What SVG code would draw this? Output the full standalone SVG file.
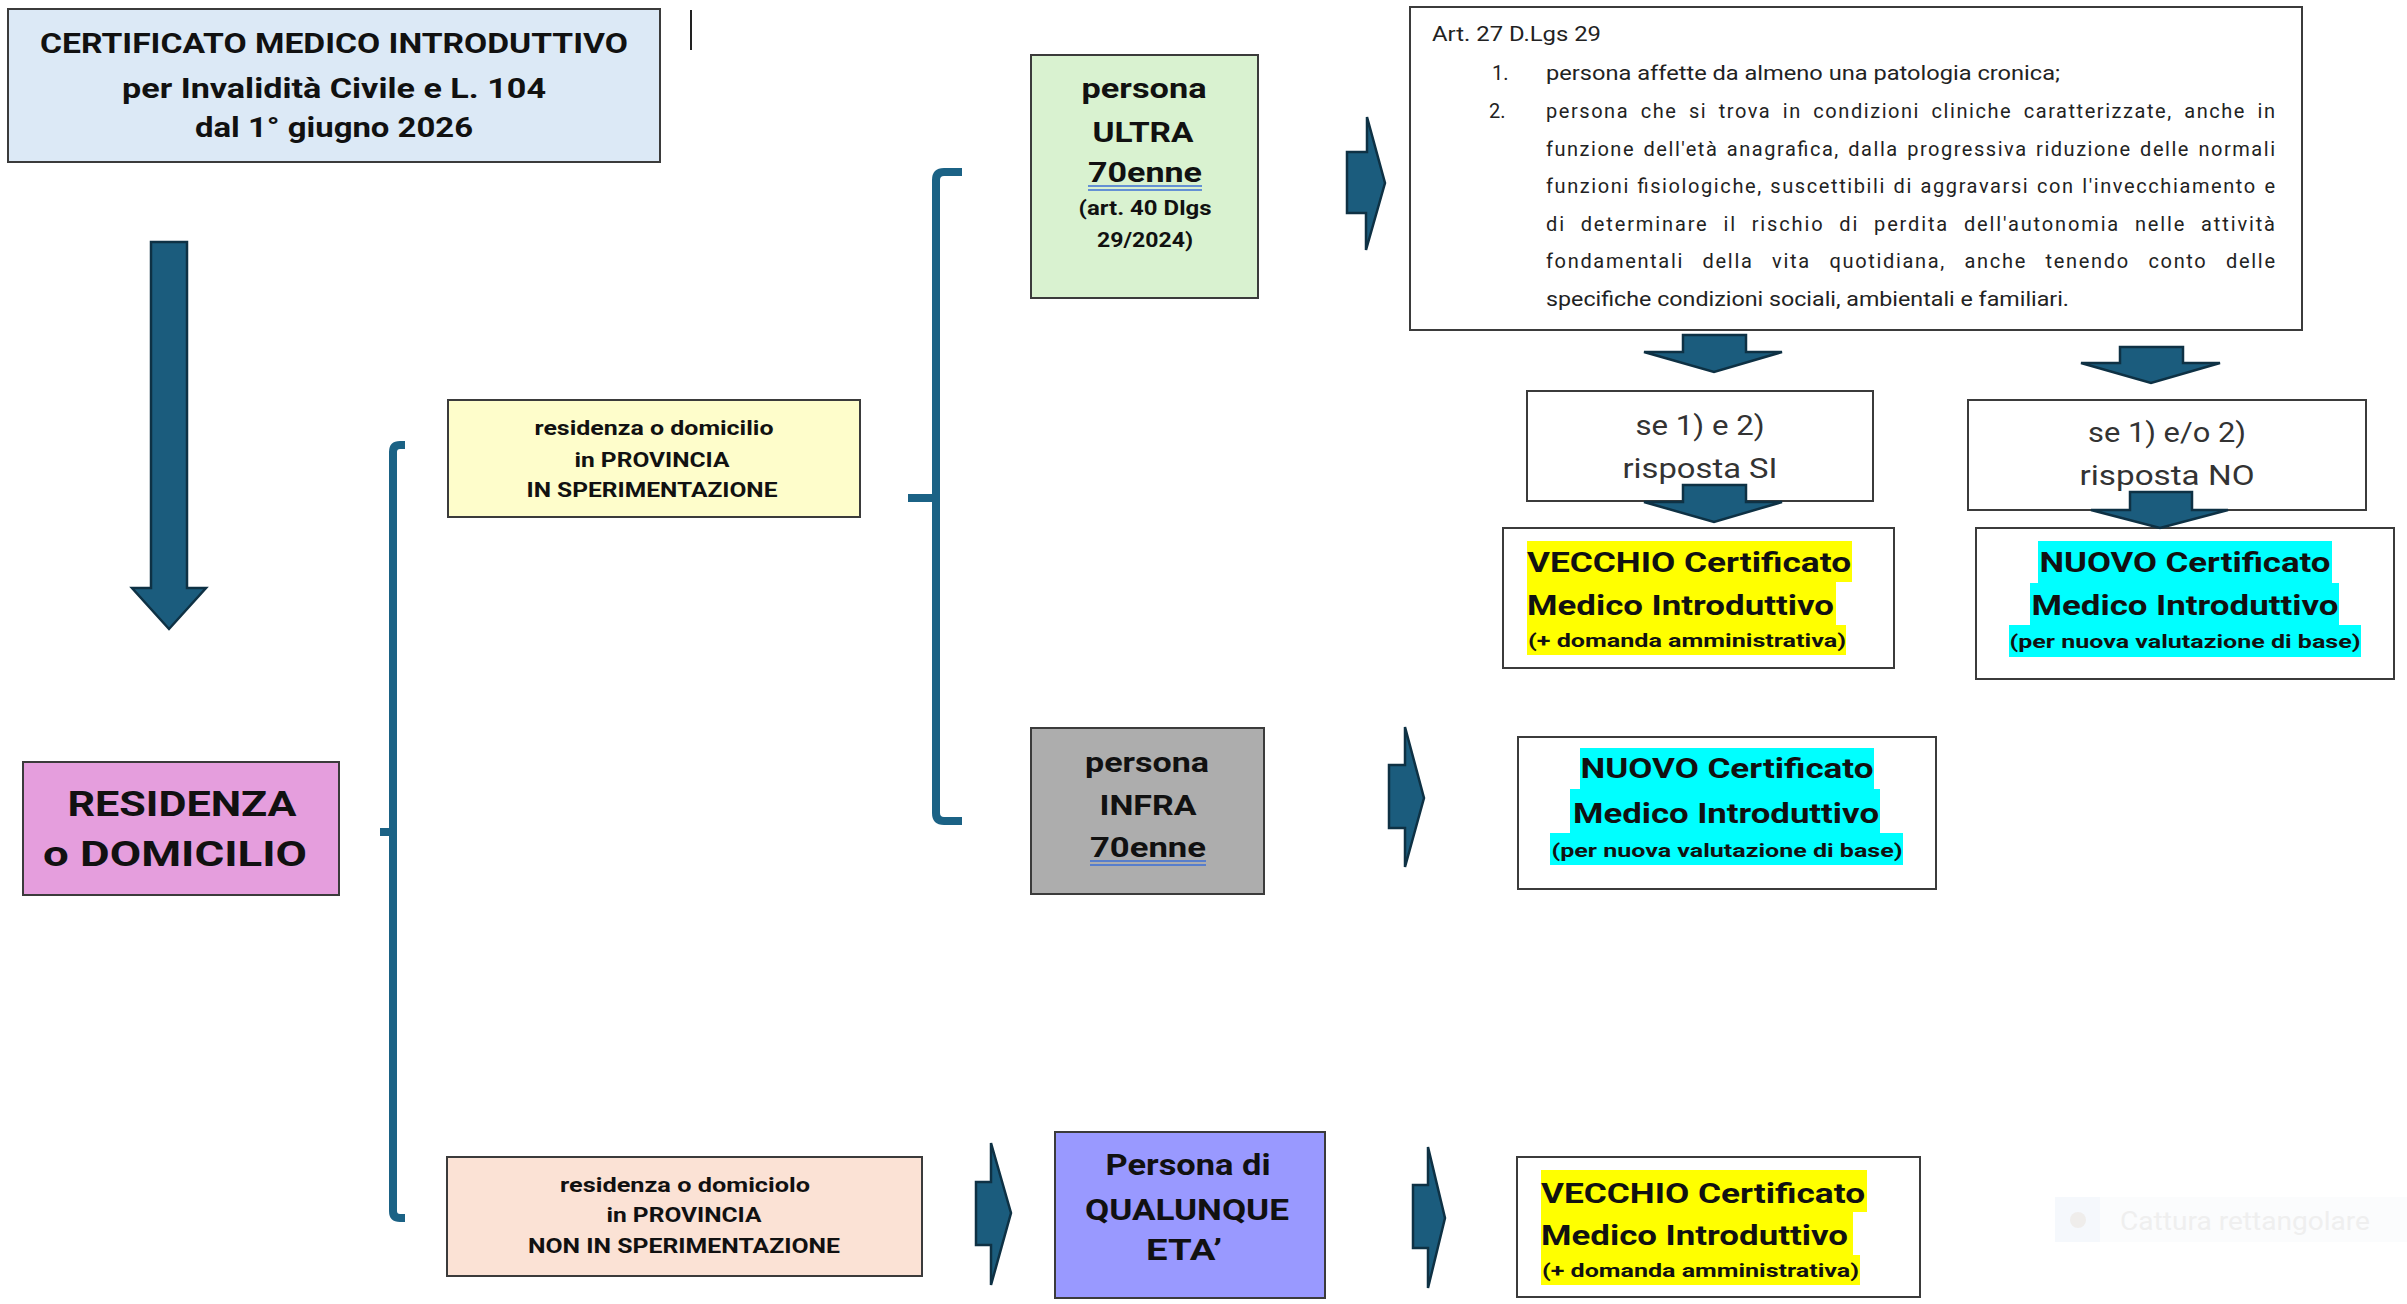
<svg xmlns="http://www.w3.org/2000/svg" width="2407" height="1304" viewBox="0 0 2407 1304">
<defs><style>
.box{stroke:#3b3b3b;stroke-width:2}
.arr{fill:#1b5c7d;stroke:#0e3144;stroke-width:2.5;stroke-linejoin:miter}
.brace{fill:none;stroke:#1b6285;stroke-width:8}
text{font-family:Roboto,"Liberation Sans",Arial,sans-serif;fill:#111}
.b{font-weight:bold}
.c{text-anchor:middle}
.ul{stroke:#3d6fd6;stroke-width:1.6}
.art{font-size:20px;fill:#222}
.q{font-size:27px;fill:#333}
.h1{font-size:27px;font-weight:bold}
.h3{font-size:19px;font-weight:bold}
.yl{fill:#ffff00}
.cy{fill:#00ffff}
</style></defs>
<rect width="2407" height="1304" fill="#ffffff"/>

<g id="title">
<rect class="box" x="8" y="9" width="652" height="153" fill="#dce9f6"/>
<text class="b c" x="334" y="53" font-size="28" textLength="588" lengthAdjust="spacingAndGlyphs">CERTIFICATO MEDICO INTRODUTTIVO</text>
<text class="b c" x="334" y="98" font-size="28" textLength="424" lengthAdjust="spacingAndGlyphs">per Invalidità Civile e L. 104</text>
<text class="b c" x="334" y="137" font-size="28" textLength="278" lengthAdjust="spacingAndGlyphs">dal 1° giugno 2026</text>
</g>
<g id="cursor"><line x1="691" y1="10" x2="691" y2="50" stroke="#222" stroke-width="2"/></g>

<g id="residenza">
<rect class="box" x="23" y="762" width="316" height="133" fill="#e59edd"/>
<text class="b c" x="182" y="816" font-size="35" textLength="229" lengthAdjust="spacingAndGlyphs">RESIDENZA</text>
<text class="b c" x="175" y="866" font-size="35" textLength="264" lengthAdjust="spacingAndGlyphs">o DOMICILIO</text>
</g>

<g id="prov-sper">
<rect class="box" x="448" y="400" width="412" height="117" fill="#fefdcb"/>
<text class="b c" x="654" y="435" font-size="20" textLength="239" lengthAdjust="spacingAndGlyphs">residenza o domicilio</text>
<text class="b c" x="652" y="467" font-size="20" textLength="155" lengthAdjust="spacingAndGlyphs">in PROVINCIA</text>
<text class="b c" x="652" y="497" font-size="20" textLength="251" lengthAdjust="spacingAndGlyphs">IN SPERIMENTAZIONE</text>
</g>

<g id="prov-non-sper">
<rect class="box" x="447" y="1157" width="475" height="119" fill="#fbe2d5"/>
<text class="b c" x="685" y="1192" font-size="20" textLength="250" lengthAdjust="spacingAndGlyphs">residenza o domiciolo</text>
<text class="b c" x="684" y="1222" font-size="20" textLength="155" lengthAdjust="spacingAndGlyphs">in PROVINCIA</text>
<text class="b c" x="684" y="1253" font-size="20" textLength="312" lengthAdjust="spacingAndGlyphs">NON IN SPERIMENTAZIONE</text>
</g>

<g id="ultra70">
<rect class="box" x="1031" y="55" width="227" height="243" fill="#d9f2d0"/>
<text class="b c" x="1144" y="98" font-size="28" textLength="125" lengthAdjust="spacingAndGlyphs">persona</text>
<text class="b c" x="1143" y="142" font-size="28" textLength="101" lengthAdjust="spacingAndGlyphs">ULTRA</text>
<text class="b c" x="1145" y="182" font-size="28" textLength="114" lengthAdjust="spacingAndGlyphs">70enne</text>
<line class="ul" x1="1088" y1="186" x2="1202" y2="186"/>
<line class="ul" x1="1088" y1="190" x2="1202" y2="190"/>
<text class="b c" x="1145" y="215" font-size="20" textLength="133" lengthAdjust="spacingAndGlyphs">(art. 40 Dlgs</text>
<text class="b c" x="1145" y="247" font-size="20" textLength="96" lengthAdjust="spacingAndGlyphs">29/2024)</text>
</g>

<g id="infra70">
<rect class="box" x="1031" y="728" width="233" height="166" fill="#adadad"/>
<text class="b c" x="1147" y="772" font-size="28" textLength="124" lengthAdjust="spacingAndGlyphs">persona</text>
<text class="b c" x="1148" y="815" font-size="28" textLength="97" lengthAdjust="spacingAndGlyphs">INFRA</text>
<text class="b c" x="1148" y="857" font-size="28" textLength="116" lengthAdjust="spacingAndGlyphs">70enne</text>
<line class="ul" x1="1090" y1="861" x2="1206" y2="861"/>
<line class="ul" x1="1090" y1="865" x2="1206" y2="865"/>
</g>

<g id="qualunque">
<rect class="box" x="1055" y="1132" width="270" height="166" fill="#9999ff"/>
<text class="b c" x="1188" y="1175" font-size="29" textLength="165" lengthAdjust="spacingAndGlyphs">Persona di</text>
<text class="b c" x="1187" y="1220" font-size="29" textLength="204" lengthAdjust="spacingAndGlyphs">QUALUNQUE</text>
<text class="b c" x="1184" y="1260" font-size="29" textLength="76" lengthAdjust="spacingAndGlyphs">ETA’</text>
</g>

<g id="art27">
<rect class="box" x="1410" y="7" width="892" height="323" fill="#ffffff"/>
<text class="art" x="1432" y="41" textLength="169" lengthAdjust="spacingAndGlyphs">Art. 27 D.Lgs 29</text>
<text class="art" x="1492" y="80">1.</text>
<text class="art" x="1546" y="80" textLength="514" lengthAdjust="spacingAndGlyphs">persona affette da almeno una patologia cronica;</text>
<text class="art" x="1489" y="118">2.</text>
<text class="art" x="1546" y="118" word-spacing="5" textLength="729" lengthAdjust="spacing">persona che si trova in condizioni cliniche caratterizzate, anche in</text>
<text class="art" x="1546" y="156" word-spacing="2" textLength="729" lengthAdjust="spacing">funzione dell'età anagrafica, dalla progressiva riduzione delle normali</text>
<text class="art" x="1546" y="193" word-spacing="1" textLength="729" lengthAdjust="spacing">funzioni fisiologiche, suscettibili di aggravarsi con l'invecchiamento e</text>
<text class="art" x="1546" y="231" word-spacing="8" textLength="729" lengthAdjust="spacing">di determinare il rischio di perdita dell'autonomia nelle attività</text>
<text class="art" x="1546" y="268" word-spacing="12" textLength="729" lengthAdjust="spacing">fondamentali della vita quotidiana, anche tenendo conto delle</text>
<text class="art" x="1546" y="306" textLength="523" lengthAdjust="spacingAndGlyphs">specifiche condizioni sociali, ambientali e familiari.</text>
</g>

<g id="risposta-si">
<rect class="box" x="1527" y="391" width="346" height="110" fill="#ffffff"/>
<text class="q c" x="1700" y="435" textLength="129" lengthAdjust="spacingAndGlyphs">se 1) e 2)</text>
<text class="q c" x="1700" y="478" textLength="155" lengthAdjust="spacingAndGlyphs">risposta SI</text>
</g>

<g id="risposta-no">
<rect class="box" x="1968" y="400" width="398" height="110" fill="#ffffff"/>
<text class="q c" x="2167" y="442" textLength="158" lengthAdjust="spacingAndGlyphs">se 1) e/o 2)</text>
<text class="q c" x="2167" y="485" textLength="175" lengthAdjust="spacingAndGlyphs">risposta NO</text>
</g>

<g id="vecchio-1">
<rect class="box" x="1503" y="528" width="391" height="140" fill="#ffffff"/>
<rect class="yl" x="1527" y="541" width="325" height="41"/>
<rect class="yl" x="1527" y="582" width="309" height="43"/>
<rect class="yl" x="1527" y="625" width="319" height="30"/>
<text class="h1" x="1527" y="572" textLength="324" lengthAdjust="spacingAndGlyphs">VECCHIO Certificato</text>
<text class="h1" x="1527" y="615" textLength="307" lengthAdjust="spacingAndGlyphs">Medico Introduttivo</text>
<text class="h3" x="1528" y="647" textLength="318" lengthAdjust="spacingAndGlyphs">(+ domanda amministrativa)</text>
</g>

<g id="nuovo-1">
<rect class="box" x="1976" y="528" width="418" height="151" fill="#ffffff"/>
<rect class="cy" x="2038" y="541" width="294" height="42"/>
<rect class="cy" x="2030" y="583" width="309" height="42"/>
<rect class="cy" x="2009" y="625" width="352" height="32"/>
<text class="h1 c" x="2185" y="572" textLength="291" lengthAdjust="spacingAndGlyphs">NUOVO Certificato</text>
<text class="h1 c" x="2185" y="615" textLength="307" lengthAdjust="spacingAndGlyphs">Medico Introduttivo</text>
<text class="h3 c" x="2185" y="648" textLength="351" lengthAdjust="spacingAndGlyphs">(per nuova valutazione di base)</text>
</g>

<g id="nuovo-2">
<rect class="box" x="1518" y="737" width="418" height="152" fill="#ffffff"/>
<rect class="cy" x="1580" y="748" width="294" height="41"/>
<rect class="cy" x="1570" y="789" width="310" height="44"/>
<rect class="cy" x="1550" y="833" width="353" height="32"/>
<text class="h1 c" x="1727" y="778" textLength="293" lengthAdjust="spacingAndGlyphs">NUOVO Certificato</text>
<text class="h1 c" x="1726" y="823" textLength="306" lengthAdjust="spacingAndGlyphs">Medico Introduttivo</text>
<text class="h3 c" x="1727" y="857" textLength="351" lengthAdjust="spacingAndGlyphs">(per nuova valutazione di base)</text>
</g>

<g id="vecchio-2">
<rect class="box" x="1517" y="1157" width="403" height="140" fill="#ffffff"/>
<rect class="yl" x="1541" y="1170" width="326" height="42"/>
<rect class="yl" x="1541" y="1212" width="312" height="43"/>
<rect class="yl" x="1541" y="1255" width="319" height="30"/>
<text class="h1" x="1541" y="1203" textLength="324" lengthAdjust="spacingAndGlyphs">VECCHIO Certificato</text>
<text class="h1" x="1541" y="1245" textLength="307" lengthAdjust="spacingAndGlyphs">Medico Introduttivo</text>
<text class="h3" x="1542" y="1277" textLength="317" lengthAdjust="spacingAndGlyphs">(+ domanda amministrativa)</text>
</g>

<g id="connectors">
<polygon class="arr" points="151,242 187,242 187,588 206,588 169,629 132,588 151,588"/>
<path class="brace" d="M405,445 H400 Q393,445 393,452 V1211 Q393,1218 400,1218 H405 M380,832 H393"/>
<path class="brace" d="M962,172 H944 Q936,172 936,180 V813 Q936,821 944,821 H962 M908,498 H936"/>
<polygon class="arr" points="1347,152 1367,152 1367,117 1385,183 1366,250 1366,213 1347,213"/>
<polygon class="arr" points="1389,765 1405,765 1405,727 1424,798 1405,867 1405,828 1389,828"/>
<polygon class="arr" points="976,1182 991,1182 991,1143 1011,1213 991,1285 991,1245 976,1245"/>
<polygon class="arr" points="1413,1185 1428,1185 1428,1147 1445,1218 1428,1288 1428,1248 1413,1248"/>
<polygon class="arr" points="1683,335 1746,335 1746,352 1782,352 1714,372 1644,352 1683,352"/>
<polygon class="arr" points="2120,347 2183,347 2183,363 2220,363 2151,383 2081,363 2120,363"/>
<polygon class="arr" points="1683,485 1746,485 1746,502 1782,502 1714,522 1644,502 1683,502"/>
<polygon class="arr" points="2130,492 2192,492 2192,510 2228,510 2160,528 2091,510 2130,510"/>
</g>

<g id="overlay">
<rect x="2055" y="1197" width="352" height="45" fill="#fbfcfd"/>
<rect x="2055" y="1197" width="45" height="45" fill="#f5f8fc"/>
<circle cx="2078" cy="1220" r="8" fill="#efedeb"/>
<text x="2120" y="1230" font-size="26" style="fill:#efefef" textLength="250" lengthAdjust="spacingAndGlyphs">Cattura rettangolare</text>
</g>
</svg>
